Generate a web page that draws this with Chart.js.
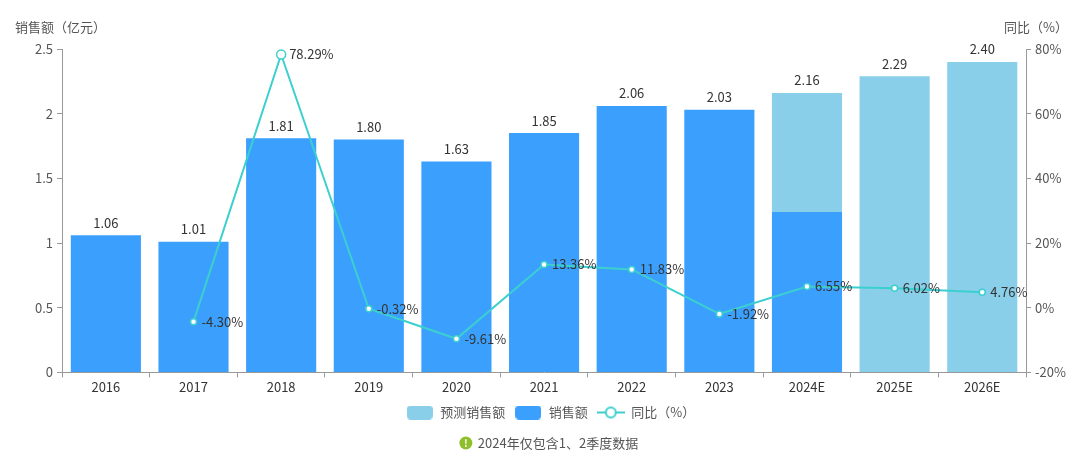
<!DOCTYPE html>
<html>
<head>
<meta charset="utf-8">
<script src="https://cdn.jsdelivr.net/npm/chart.js@4.4.1/dist/chart.umd.min.js"></script>
<style>
  body { margin: 0; background: #fff; }
  #wrap { width: 1080px; height: 456px; position: relative; }
</style>
</head>
<body>
<div id="wrap"><canvas id="salesChart"></canvas></div>
<script>
const years = ['2016', '2017', '2018', '2019', '2020', '2021', '2022', '2023', '2024E', '2025E', '2026E'];
const sales = [1.06, 1.01, 1.81, 1.80, 1.63, 1.85, 2.06, 2.03, 1.24, null, null];
const forecastExtra = [null, null, null, null, null, null, null, null, 0.92, 2.29, 2.40];
const growth = [null, -4.30, 78.29, -0.32, -9.61, 13.36, 11.83, -1.92, 6.55, 6.02, 4.76];
const leftTicks = [0, 0.5, 1, 1.5, 2, 2.5];
const rightTicks = [-20, 0, 20, 40, 60, 80];

const FONT = "'Microsoft YaHei', 'Noto Sans CJK SC', sans-serif";
const blue = '#3ba0fd';
const lightBlue = '#89cfe9';
const teal = '#3ccfcf';

function makeBox(color) {
    const c = document.createElement('canvas');
    c.width = 26; c.height = 14;
    const g = c.getContext('2d');
    g.fillStyle = color;
    g.beginPath();
    g.roundRect(0, 0, 26, 14, 4);
    g.fill();
    return c;
}

function makeLineIcon() {
    const c = document.createElement('canvas');
    c.width = 28; c.height = 14;
    const g = c.getContext('2d');
    g.strokeStyle = teal;
    g.lineWidth = 2;
    g.beginPath();
    g.moveTo(0, 7); g.lineTo(28, 7);
    g.stroke();
    g.fillStyle = '#fff';
    g.beginPath();
    g.arc(14, 7, 5, 0, Math.PI * 2);
    g.fill();
    g.stroke();
    return c;
}

const labelPlugin = {
    id: 'valueLabels',
    afterDatasetsDraw(chart) {
        const ctx = chart.ctx;
        const y = chart.scales.y;
        const x = chart.scales.x;
        ctx.save();
        ctx.font = '13px ' + FONT;
        ctx.fillStyle = '#333';
        ctx.textAlign = 'center';
        ctx.textBaseline = 'bottom';
        years.forEach((yr, i) => {
            const total = (sales[i] || 0) + (forecastExtra[i] || 0);
            ctx.fillText(total.toFixed(2), x.getPixelForValue(i), y.getPixelForValue(total) - 6);
        });
        const lineMeta = chart.getDatasetMeta(2);
        ctx.textAlign = 'left';
        ctx.textBaseline = 'middle';
        lineMeta.data.forEach((pt, i) => {
            if (growth[i] === null) return;
            ctx.fillText(growth[i].toFixed(2) + '%', pt.x + 8, pt.y);
        });
        ctx.restore();
    },
    afterDraw(chart) {
        const ctx = chart.ctx;
        const area = chart.chartArea;
        ctx.save();
        ctx.font = '13px ' + FONT;
        ctx.fillStyle = '#555';
        ctx.textBaseline = 'middle';
        ctx.textAlign = 'left';
        ctx.fillText('销售额（亿元）', 15, area.top - 22);
        ctx.textAlign = 'right';
        ctx.fillText('同比（%）', 1068, area.top - 22);

        // footnote
        const note = '2024年仅包含1、2季度数据';
        const tw = ctx.measureText(note).width;
        const cx = chart.width / 2 + 9;
        const fy = 443;
        const startX = cx - (tw + 18) / 2;
        ctx.fillStyle = '#8cbf2a';
        ctx.beginPath();
        ctx.arc(startX + 6, fy, 6.5, 0, Math.PI * 2);
        ctx.fill();
        ctx.fillStyle = '#fff';
        ctx.font = 'bold 10px ' + FONT;
        ctx.textAlign = 'center';
        ctx.fillText('!', startX + 6, fy + 0.5);
        ctx.font = '13px ' + FONT;
        ctx.fillStyle = '#555';
        ctx.textAlign = 'left';
        ctx.fillText(note, startX + 18, fy);
        ctx.restore();
    }
};

const ctx = document.getElementById('salesChart').getContext('2d');
new Chart(ctx, {
    type: 'bar',
    data: {
        labels: years,
        datasets: [
            {
                label: '预测销售额',
                data: forecastExtra,
                backgroundColor: lightBlue,
                yAxisID: 'y',
                stack: 's',
                order: 2,
                barPercentage: 0.8,
                categoryPercentage: 1.0,
                legendIcon: makeBox(lightBlue)
            },
            {
                label: '销售额',
                data: sales,
                backgroundColor: blue,
                yAxisID: 'y',
                stack: 's',
                order: 1,
                barPercentage: 0.8,
                categoryPercentage: 1.0,
                legendIcon: makeBox(blue)
            },
            {
                type: 'line',
                label: '同比（%）',
                data: growth,
                yAxisID: 'y1',
                borderColor: teal,
                backgroundColor: '#fff',
                borderWidth: 2,
                tension: 0,
                pointStyle: 'circle',
                pointRadius: [3, 3, 4.5, 3, 3, 3, 3, 3, 3, 3, 3],
                pointBorderWidth: 1.5,
                pointBackgroundColor: '#fff',
                pointBorderColor: teal,
                order: 0,
                legendIcon: makeLineIcon()
            }
        ]
    },
    options: {
        responsive: true,
        maintainAspectRatio: false,
        animation: false,
        layout: { padding: { top: 49, left: 31, right: 10, bottom: 27 } },
        plugins: {
            legend: {
                position: 'bottom',
                labels: {
                    usePointStyle: true,
                    pointStyleWidth: 28,
                    color: '#555',
                    font: { size: 13, family: FONT },
                    padding: 9,
                    sort: (a, b) => a.datasetIndex - b.datasetIndex,
                    generateLabels(chart) {
                        return chart.data.datasets.map((ds, i) => ({
                            text: ds.label,
                            pointStyle: ds.legendIcon,
                            fillStyle: ds.backgroundColor,
                            strokeStyle: 'transparent',
                            lineWidth: 0,
                            datasetIndex: i,
                            fontColor: '#555'
                        }));
                    }
                }
            },
            tooltip: { enabled: false }
        },
        scales: {
            x: {
                stacked: true,
                grid: { drawOnChartArea: false, drawTicks: true, tickLength: 5, color: '#999', offset: true },
                border: { display: true, color: '#999' },
                ticks: { color: '#333', font: { size: 13, family: FONT }, padding: 2 }
            },
            y: {
                stacked: true,
                position: 'left',
                min: 0,
                max: 2.5,
                afterBuildTicks: (axis) => { axis.ticks = leftTicks.map(v => ({ value: v })); },
                grid: { drawOnChartArea: false, drawTicks: true, tickLength: 5, color: '#999' },
                border: { display: true, color: '#999' },
                ticks: { color: '#555', font: { size: 13, family: FONT }, padding: 4, callback: v => String(v) }
            },
            y1: {
                position: 'right',
                min: -20,
                max: 80,
                afterBuildTicks: (axis) => { axis.ticks = rightTicks.map(v => ({ value: v })); },
                grid: { drawOnChartArea: false, drawTicks: true, tickLength: 5, color: '#999' },
                border: { display: true, color: '#999' },
                ticks: { color: '#555', font: { size: 13, family: FONT }, padding: 4, callback: v => v + '%' }
            }
        }
    },
    plugins: [labelPlugin]
});
</script>
</body>
</html>
